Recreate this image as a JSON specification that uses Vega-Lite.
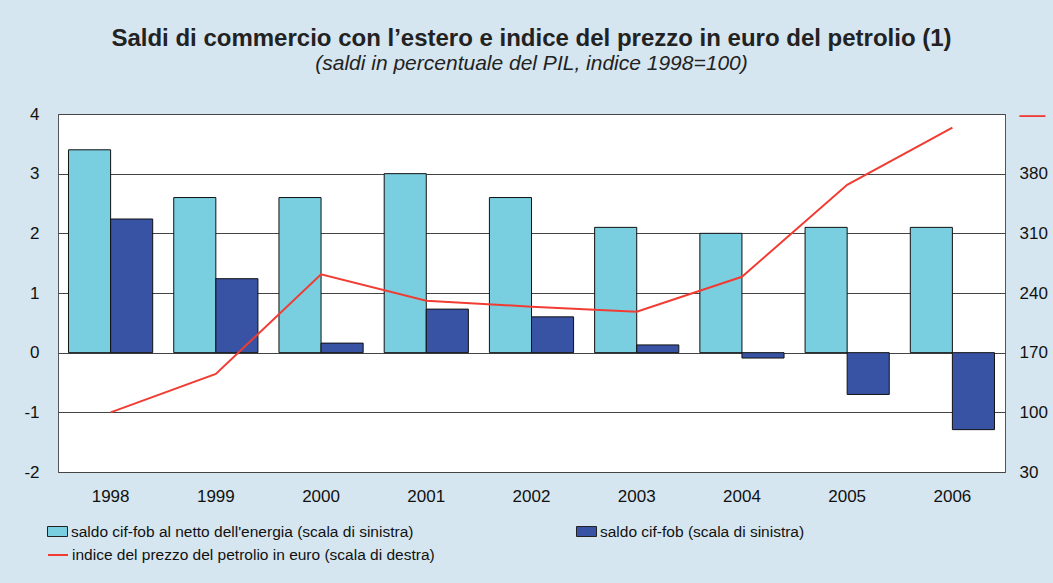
{
  "$schema": "https://vega.github.io/schema/vega-lite/v6.json",
  "width": 947,
  "height": 358,
  "autosize": {"type": "none"},
  "padding": {"left": 58, "top": 114, "right": 48, "bottom": 111},
  "background": "#d5e6f0",
  "config": {
    "font": "Liberation Sans",
    "view": {"fill": "white", "stroke": "#555", "strokeWidth": 1}
  },
  "title": {
    "text": "Saldi di commercio con l’estero e indice del prezzo in euro del petrolio (1)",
    "subtitle": "(saldi in percentuale del PIL, indice 1998=100)",
    "fontSize": 24,
    "fontWeight": "bold",
    "color": "#222",
    "subtitleFontSize": 21,
    "subtitleFontStyle": "italic",
    "subtitleColor": "#222",
    "subtitlePadding": 2,
    "anchor": "middle",
    "frame": "group",
    "offset": 27
  },
  "datasets": {
    "saldi": [
      {"anno": "1998", "serie": "saldo cif-fob al netto dell'energia (scala di sinistra)", "valore": 3.4},
      {"anno": "1999", "serie": "saldo cif-fob al netto dell'energia (scala di sinistra)", "valore": 2.6},
      {"anno": "2000", "serie": "saldo cif-fob al netto dell'energia (scala di sinistra)", "valore": 2.6},
      {"anno": "2001", "serie": "saldo cif-fob al netto dell'energia (scala di sinistra)", "valore": 3.0},
      {"anno": "2002", "serie": "saldo cif-fob al netto dell'energia (scala di sinistra)", "valore": 2.6},
      {"anno": "2003", "serie": "saldo cif-fob al netto dell'energia (scala di sinistra)", "valore": 2.1},
      {"anno": "2004", "serie": "saldo cif-fob al netto dell'energia (scala di sinistra)", "valore": 2.0},
      {"anno": "2005", "serie": "saldo cif-fob al netto dell'energia (scala di sinistra)", "valore": 2.1},
      {"anno": "2006", "serie": "saldo cif-fob al netto dell'energia (scala di sinistra)", "valore": 2.1},
      {"anno": "1998", "serie": "saldo cif-fob (scala di sinistra)", "valore": 2.24},
      {"anno": "1999", "serie": "saldo cif-fob (scala di sinistra)", "valore": 1.24},
      {"anno": "2000", "serie": "saldo cif-fob (scala di sinistra)", "valore": 0.16},
      {"anno": "2001", "serie": "saldo cif-fob (scala di sinistra)", "valore": 0.73},
      {"anno": "2002", "serie": "saldo cif-fob (scala di sinistra)", "valore": 0.6},
      {"anno": "2003", "serie": "saldo cif-fob (scala di sinistra)", "valore": 0.13},
      {"anno": "2004", "serie": "saldo cif-fob (scala di sinistra)", "valore": -0.09},
      {"anno": "2005", "serie": "saldo cif-fob (scala di sinistra)", "valore": -0.7},
      {"anno": "2006", "serie": "saldo cif-fob (scala di sinistra)", "valore": -1.29}
    ],
    "petrolio": [
      {"anno": "1998", "indice": 100},
      {"anno": "1999", "indice": 145},
      {"anno": "2000", "indice": 262},
      {"anno": "2001", "indice": 231},
      {"anno": "2002", "indice": 224},
      {"anno": "2003", "indice": 218},
      {"anno": "2004", "indice": 259},
      {"anno": "2005", "indice": 367},
      {"anno": "2006", "indice": 434}
    ]
  },
  "layer": [
    {
      "data": {"name": "saldi"},
      "mark": {"type": "bar", "stroke": "#111", "strokeWidth": 1},
      "encoding": {
        "x": {
          "field": "anno", "type": "ordinal",
          "scale": {"paddingInner": 0.2, "paddingOuter": 0.1},
          "axis": {"title": null, "labelAngle": 0, "labelFontSize": 17, "labelPadding": 16, "ticks": false, "domain": false, "labelColor": "#111"}
        },
        "xOffset": {
          "field": "serie", "type": "nominal",
          "scale": {"domain": ["saldo cif-fob al netto dell'energia (scala di sinistra)", "saldo cif-fob (scala di sinistra)"]}
        },
        "y": {
          "field": "valore", "type": "quantitative",
          "scale": {"domain": [-2, 4], "nice": false},
          "axis": {"title": null, "values": [-2, -1, 0, 1, 2, 3, 4], "labelExpr": "toString(datum.value)", "labelFontSize": 17, "labelPadding": 19, "ticks": false, "domain": false, "gridColor": "#444", "gridOpacity": 1, "labelColor": "#111"}
        },
        "fill": {
          "field": "serie", "type": "nominal",
          "scale": {"domain": ["saldo cif-fob al netto dell'energia (scala di sinistra)", "saldo cif-fob (scala di sinistra)"], "range": ["#79cfe0", "#3953a4"]},
          "legend": {
            "title": null, "orient": "none", "legendX": -11, "legendY": 407,
            "direction": "horizontal", "columns": 2, "columnPadding": 160,
            "symbolType": "M-1,-0.5H1V0.5H-1Z", "symbolSize": 400,
            "symbolStrokeColor": "#222", "symbolStrokeWidth": 1, "symbolOpacity": 1,
            "labelFontSize": 15.5, "labelColor": "#111", "labelLimit": 600, "labelOffset": 3
          }
        }
      }
    },
    {
      "data": {"name": "petrolio"},
      "mark": {"type": "line", "strokeWidth": 2},
      "encoding": {
        "x": {"field": "anno", "type": "ordinal"},
        "y": {
          "field": "indice", "type": "quantitative",
          "scale": {"domain": [30, 450], "nice": false},
          "axis": {
            "orient": "right", "title": null, "values": [30, 100, 170, 240, 310, 380, 450],
            "labelExpr": "datum.value == 450 ? '—' : datum.label",
            "labelColor": {"condition": {"test": "datum.value == 450", "value": "#f03c32"}, "value": "#111"},
            "labelFontSize": {"condition": {"test": "datum.value == 450", "value": 26}, "value": 17},
            "labelPadding": 14, "ticks": false, "domain": false, "grid": false
          }
        },
        "stroke": {
          "datum": "indice del prezzo del petrolio in euro (scala di destra)", "type": "nominal",
          "scale": {"range": ["#f03c32"]},
          "legend": {
            "title": null, "orient": "none", "legendX": -11, "legendY": 430,
            "symbolType": "stroke", "symbolSize": 400, "symbolStrokeWidth": 2,
            "labelFontSize": 15.5, "labelColor": "#111", "labelLimit": 600, "labelOffset": 3
          }
        }
      }
    }
  ],
  "resolve": {"scale": {"y": "independent"}}
}
